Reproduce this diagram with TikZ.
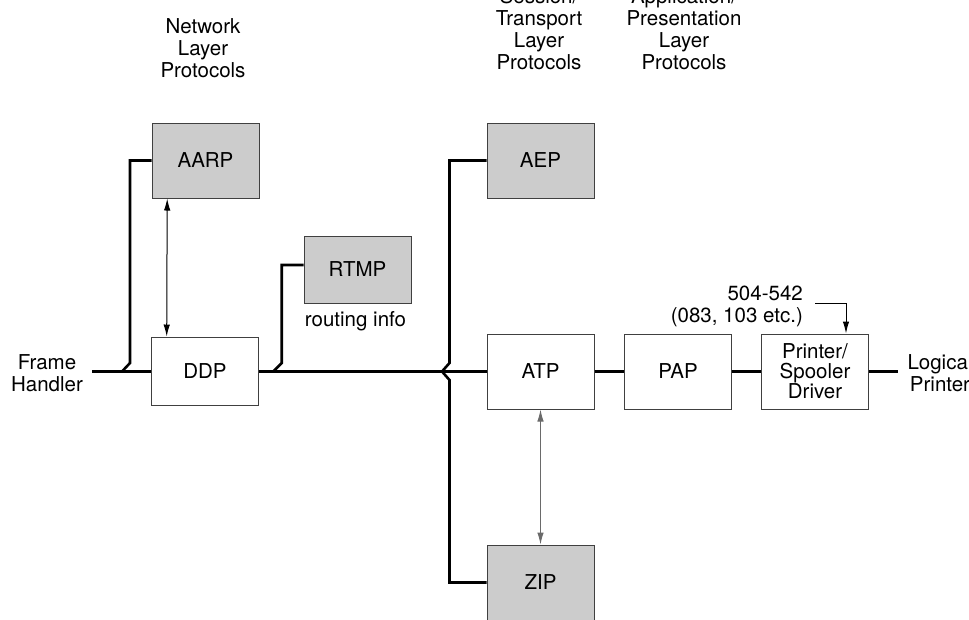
\documentclass[tikz,border=0pt]{standalone}
\usepackage{fontspec}
\setmainfont{TeX Gyre Heros}
\usetikzlibrary{arrows.meta,calc}
\definecolor{protofill}{HTML}{CCCCCC}
\definecolor{boxline}{HTML}{404040}
\definecolor{linkgray}{HTML}{6A6A6A}
\begin{document}
\begin{tikzpicture}[x=1pt,y=-1pt,
  lbl/.style={font=\fontsize{20.5}{22}\selectfont, align=center, inner sep=0pt},
  proto/.style={draw=boxline, line width=1pt, minimum width=107pt, minimum height=75pt,
    inner sep=0pt, font=\fontsize{20.5}{20}\selectfont, align=center},
  shaded/.style={proto, fill=protofill},
  plain/.style={proto, fill=white},
  bus/.style={line width=2.6pt, line cap=butt, line join=miter},
  link/.style={line width=1pt, {Latex[length=12pt,width=6.5pt]}-{Latex[length=12pt,width=6.5pt]}},
  pointer/.style={line width=1pt, -{Latex[length=12pt,width=6.5pt]}}]

\useasboundingbox (0,0) rectangle (969,619);
\clip (0,0) rectangle (969,619);

% layer headings
\node[lbl] (hnet) at (203,48) {Network\\Layer\\Protocols};
\node[lbl] (htrans) at (539,29) {Session/\\Transport\\Layer\\Protocols};
\node[lbl] (hpres) at (684,29) {Application/\\Presentation\\Layer\\Protocols};

% protocol boxes
\node[shaded] (aarp) at (205.5,160.5) {AARP};
\node[plain, minimum height=68pt] (ddp) at (205,371) {DDP};
\node[shaded, minimum height=67pt] (rtmp) at (357.5,269.5) {RTMP};
\node[lbl, anchor=north] (rinfo) at ($(rtmp.south)+(-2,8)$) {routing info};
\node[shaded] (aep) at (540.5,160.5) {AEP};
\node[plain] (atp) at (540.5,371.5) {ATP};
\node[shaded] (zip) at (540.5,582.5) {ZIP};
\node[plain] (pap) at (678,371.5) {PAP};
\node[plain] (drv) at (815,371.5) {Printer/\\Spooler\\Driver};

% end labels
\node[lbl] (fh) at (47,373.5) {Frame\\Handler};
\node[lbl] (lp) at (940,373.5) {Logical\\Printer};
\node[lbl, align=right, anchor=east] (part) at (803,306) {504-542\\(083, 103 etc.)};

% bus end points and junctions
\coordinate (busL) at (92,371.5);
\coordinate (busR) at (898,371.5);
\coordinate (jaarp) at (122,371.5);
\coordinate (jrtmp) at (273.3,371.5);
\coordinate (jtip) at (442,371.5);

% main bus
\draw[bus] (busL) -- (ddp.west |- busL);
\draw[bus] (ddp.east |- busL) -- (atp.west);
\draw[bus] (atp.east) -- (pap.west);
\draw[bus] (pap.east) -- (drv.west);
\draw[bus] (drv.east) -- (busR);

% side branches joining the bus
\draw[bus] (aarp.west) -| ($(jaarp)+(8,-8.5)$) -- (jaarp);
\draw[bus] ($(rtmp.west)+(0,-4.5)$) -| ($(jrtmp)+(8.4,-8.5)$) -- (jrtmp);
\draw[bus] (aep.west) -| ($(jtip)+(7.5,-8.5)$) -- (jtip) -- ($(jtip)+(7.5,8.5)$) |- (zip.west);

% peer links
\draw[link] ([xshift=15.7]aarp.south west) -- ([xshift=15.7]ddp.north west);
\draw[link, draw=linkgray] (atp.south) -- (zip.north);
\draw[pointer] ($(part.east)+(12,-3)$) -| ([xshift=31]drv.north);

\end{tikzpicture}
\end{document}
